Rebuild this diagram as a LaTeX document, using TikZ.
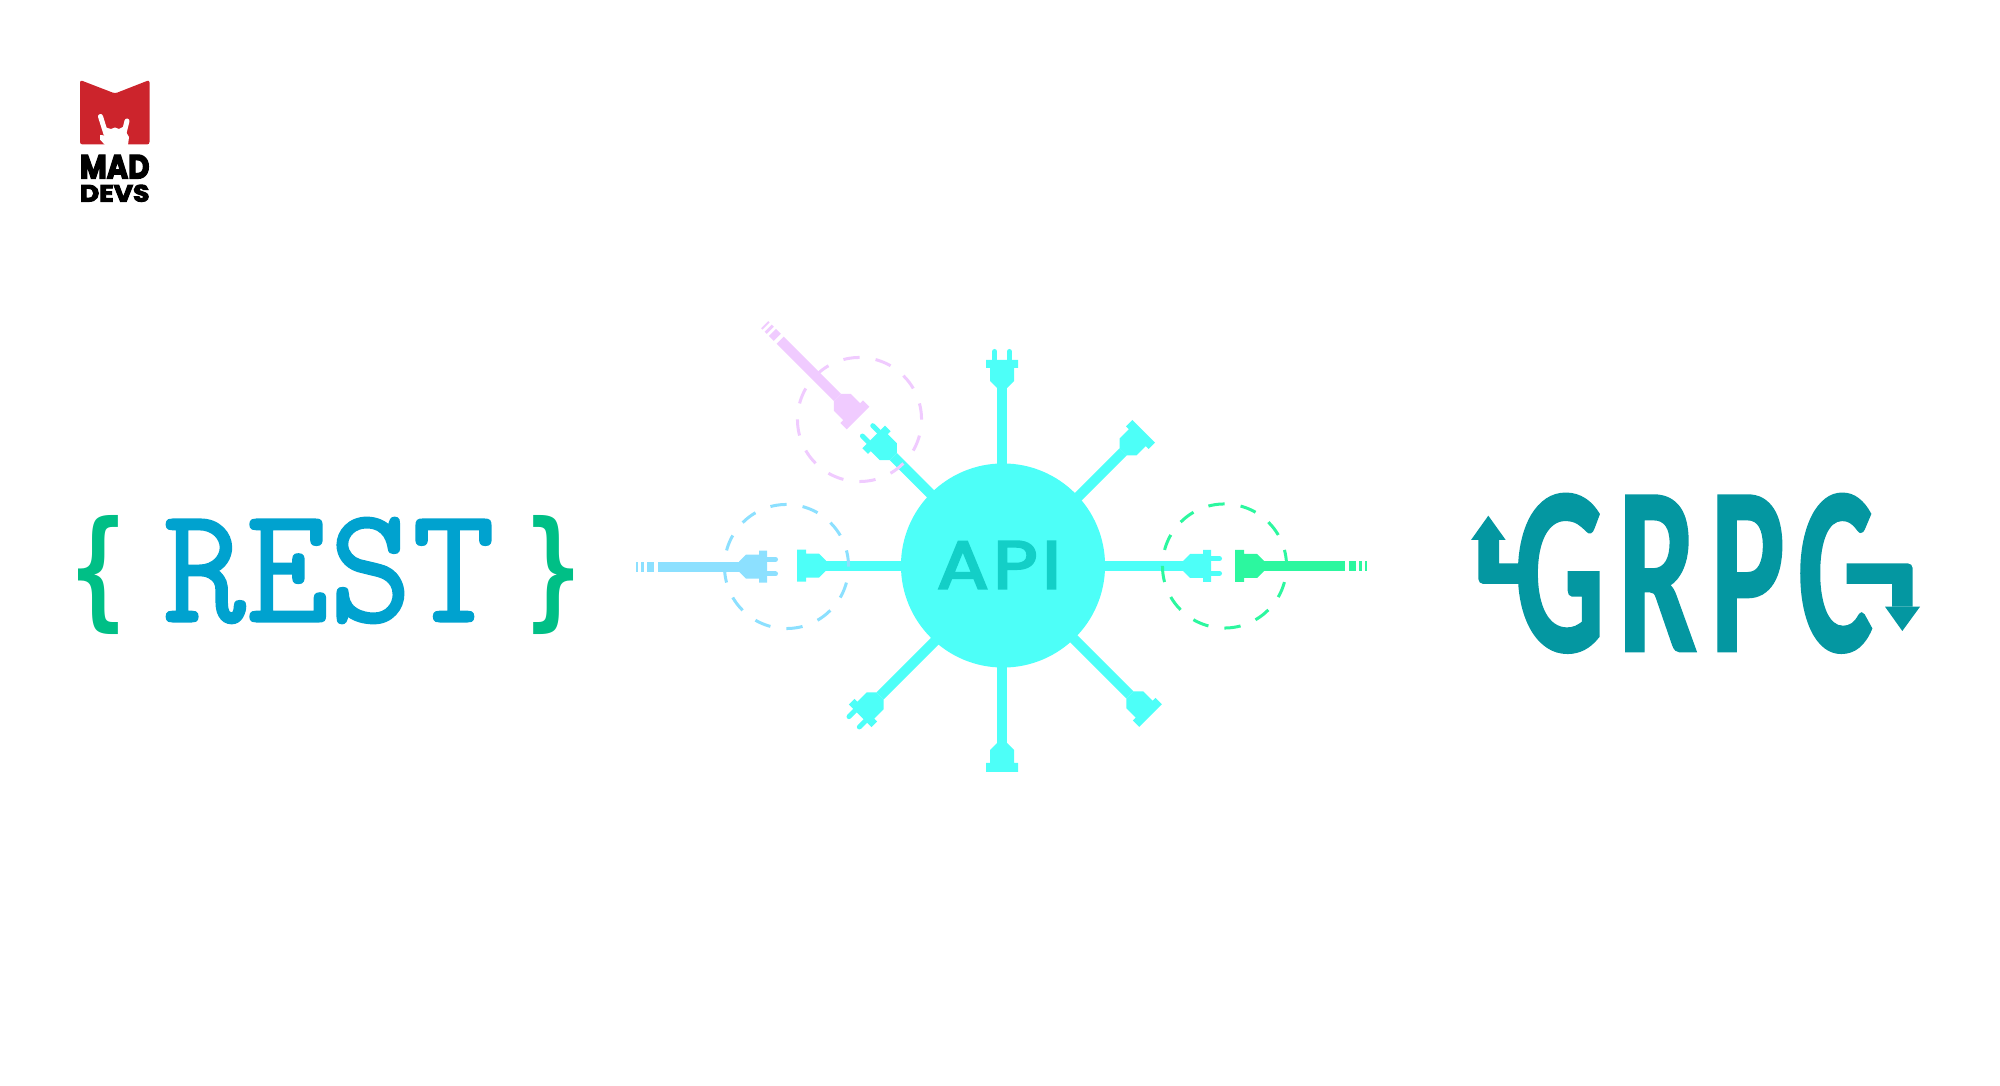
\documentclass[tikz,border=0pt]{standalone}
\usepackage{fontspec}
\usetikzlibrary{calc}
\setmainfont{Liberation Sans}
\newfontfamily\restfont{Latin Modern Mono}[FakeBold=1]
\newfontfamily\bracefont{DejaVu Sans Mono}
\newfontfamily\apifont{Poppins}[LetterSpace=6,FakeBold=3.5]
\newfontfamily\grpcfont{Carlito}[LetterSpace=9,FakeBold=1]
\newfontfamily\logofont{Poppins}[FakeBold=4]
\definecolor{madred}{HTML}{CC242C}
\definecolor{restblue}{HTML}{00A2CF}
\definecolor{bracegreen}{HTML}{00BF86}
\definecolor{grpcteal}{HTML}{0497A1}
\definecolor{hubcyan}{HTML}{4DFFF8}
\definecolor{apiteal}{HTML}{13CFC7}
\definecolor{plugpink}{HTML}{F0CBFF}
\definecolor{plugblue}{HTML}{8CE0FF}
\definecolor{pluggreen}{HTML}{2CF79F}
\newcommand{\fitbox}[3]{\resizebox*{#1cm}{#2cm}{#3}}
\tikzset{
  stem/.style={line width=0.1cm},
  cable/.style={line width=0.1cm,dash pattern=on 0.81cm off 0.04cm on 0.07cm off 0.03cm on 0.03cm off 0.03cm on 0.02cm},
  ring/.style={circle,draw,line width=0.03cm,minimum size=1.24cm,inner sep=0,dash pattern=on 0.1623cm off 0.1623cm},
  word/.style={inner sep=0,outer sep=0},
  malehead/.pic={
    \fill (0,-5)--(7,-12)--(20,-12)--(20,-16)--(28,-16)--(28,16)--(20,16)--(20,12)--(7,12)--(0,5)--cycle;
    \draw[line width=0.05cm,line cap=round] (28,-7.3)--(36.5,-7.3) (28,7.3)--(36.5,7.3);
  },
  femalehead/.pic={
    \fill (0,-5)--(7,-12)--(20,-12)--(20,-16)--(29,-16)--(29,16)--(20,16)--(20,12)--(7,12)--(0,5)--cycle;
  }
}
\begin{document}
\begin{tikzpicture}[x=0.01cm,y=-0.01cm]
  \useasboundingbox (0,0) rectangle (2000,1086);
  % logo
  \fill[madred,rounded corners=0.025cm] (80,144.5)--(80,80)--(115,93.5)--(149.5,80)--(149.5,144.5)--cycle;
  \fill[white] (104,127)--(111,129)--(115,127.5)--(119,129)--(123,127)--(129,137)--(128,145)--(105,145)--(100,139.5)--(100,135)--(105,135.5)--cycle;
  \draw[white,line width=0.05cm,line cap=round] (100.5,116.5)--(106,134) (127,121)--(123.5,135);
  \node[word,anchor=center] (mad) at (114.7,166.7) {\fitbox{0.695}{0.235}{\logofont\bfseries MAD}};
  \node[word,anchor=center] (devs) at (114.7,193.3) {\fitbox{0.695}{0.17}{\logofont\bfseries DEVS}};
  % rest
  \node[word,text=bracegreen] (lbrace) at (99,575) {\fitbox{0.56}{1.19}{\bracefont\bfseries\{}};
  \node[word,text=restblue] (rest) at (329,570.5) {\fitbox{3.32}{1.06}{\restfont REST}};
  \node[word,text=bracegreen] (rbrace) at (554,575) {\fitbox{0.56}{1.19}{\bracefont\bfseries\}}};
  % hub and spokes
  \coordinate (hub) at (1003,565.5);
  \coordinate (nwend) at (893.4,456.7);
  \coordinate (nend) at (1002,388);
  \coordinate (neend) at (1123.2,451.8);
  \coordinate (eend) at (1183,566);
  \coordinate (seend) at (1130,695);
  \coordinate (send) at (1002,743);
  \coordinate (swend) at (880,696);
  \coordinate (wend) at (826,565.7);
  \foreach \a/\dx/\dy in {nwend/60/60,nend/0/100,neend/-60/60,eend/-100/0,seend/-60/-60,send/0/-100,swend/60/-60,wend/100/0}
    \draw[stem,hubcyan] (\a)--++(\dx,\dy);
  \node[circle,fill=hubcyan,minimum size=2.04cm,inner sep=0] (api) at (hub) {};
  \node[word,text=apiteal] (apilabel) at (999,565) {\fitbox{1.24}{0.47}{\apifont API}};
  \pic[color=hubcyan,rotate=135] (nwplug) at (nwend) {malehead};
  \pic[color=hubcyan,rotate=90] (nplug) at (nend) {malehead};
  \pic[color=hubcyan,rotate=45] (neplug) at (neend) {femalehead};
  \pic[color=hubcyan] (eplug) at (eend) {malehead};
  \pic[color=hubcyan,rotate=-45] (seplug) at (seend) {femalehead};
  \pic[color=hubcyan,rotate=-90] (splug) at (send) {femalehead};
  \pic[color=hubcyan,rotate=-135] (swplug) at (swend) {malehead};
  \pic[color=hubcyan,rotate=180] (wplug) at (wend) {femalehead};
  % loose plugs
  \coordinate (pinkend) at (837.5,397.5);
  \coordinate (pinktail) at (764.7,324.7);
  \coordinate (blueend) at (739,566.7);
  \coordinate (bluetail) at (636,566.7);
  \coordinate (greenend) at (1264,566);
  \coordinate (greentail) at (1367,566);
  \draw[cable,plugpink] (pinkend)--(pinktail);
  \draw[cable,plugblue] (blueend)--(bluetail);
  \draw[cable,pluggreen] (greenend)--(greentail);
  \pic[color=plugpink,rotate=-45] (pinkplug) at (pinkend) {femalehead};
  \pic[color=plugblue] (blueplug) at (blueend) {malehead};
  \pic[color=pluggreen,rotate=180] (greenplug) at (greenend) {femalehead};
  \node[ring,plugpink] (pinkring) at (859.5,419.5) {};
  \node[ring,plugblue] (bluering) at (786.5,566.5) {};
  \node[ring,pluggreen] (greenring) at (1224.5,566) {};
  % grpc
  \node[word,text=grpcteal] (grpc) at (1694,573.3) {\fitbox{3.58}{1.59}{\grpcfont\bfseries GRPC}};
  \fill[grpcteal] (1530,584) [rounded corners=0.05cm]--(1478.3,584) [sharp corners]--(1478.3,540)--(1499,540)--(1499,563.3)--(1530,563.3)--cycle;
  \fill[grpcteal] (1471,540)--(1488.3,515.7)--(1505.7,540)--cycle;
  \fill[grpcteal] (1846.7,563.3) [rounded corners=0.05cm]--(1912.7,563.3) [sharp corners]--(1912.7,606.7)--(1892,606.7)--(1892,584)--(1846.7,584)--cycle;
  \fill[grpcteal] (1885,606.7)--(1902.3,631)--(1920,606.7)--cycle;
\end{tikzpicture}
\end{document}
